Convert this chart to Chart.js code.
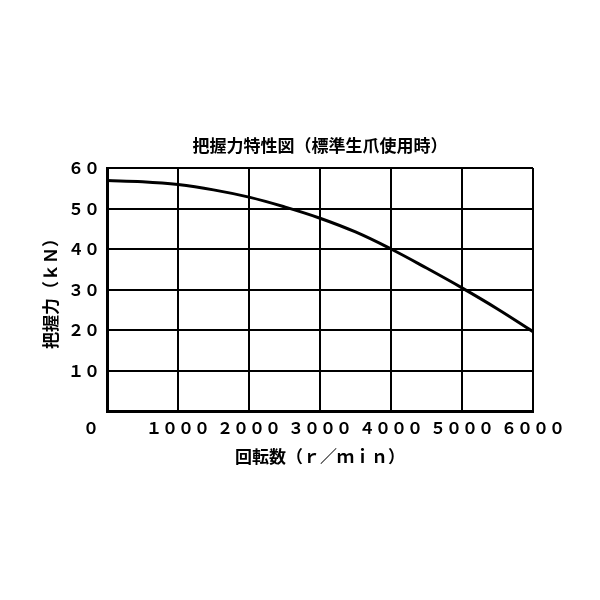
<!DOCTYPE html>
<html>
<head>
<meta charset="utf-8">
<script src="https://cdn.jsdelivr.net/npm/chart.js@4"></script>
<style>
  html, body { margin: 0; padding: 0; background: #fff; }
  #wrap { width: 600px; height: 600px; }
</style>
</head>
<body>
<div id="wrap"><canvas id="c" width="600" height="600"></canvas></div>
<script>
// Data
const rpm = [0, 500, 1000, 1500, 2000, 2500, 3000, 3500, 4000, 4500, 5000, 5500, 6000];
const grip = [56.9, 56.6, 55.9, 54.6, 52.8, 50.4, 47.6, 44.2, 40.0, 35.3, 30.4, 25.2, 19.6];
const xTickLabels = ['０　　', '１０００', '２０００', '３０００', '４０００', '５０００', '６０００'];
const yTickLabels = ['', '１０', '２０', '３０', '４０', '５０', '６０'];
const chartTitle = '把握力特性図（標準生爪使用時）';
const xTitle = '回転数（ｒ／ｍｉｎ）';
const yTitle = '把握力（ｋＮ）';

const FONT = '"Noto Sans CJK JP", "Noto Sans", sans-serif';
const points = rpm.map((r, i) => ({ x: r, y: grip[i] }));

new Chart(document.getElementById('c'), {
  type: 'line',
  data: {
    datasets: [{
      data: points,
      borderColor: '#000',
      borderWidth: 3,
      pointRadius: 0,
      tension: 0.4,
      fill: false
    }]
  },
  options: {
    responsive: false,
    animation: false,
    devicePixelRatio: 1,
    layout: { padding: { left: 40, right: 67, top: 135, bottom: 133 } },
    plugins: {
      legend: { display: false },
      tooltip: { enabled: false },
      title: {
        display: true,
        text: chartTitle,
        fullSize: false,
        color: '#000',
        font: { family: FONT, size: 17, weight: 'bold', lineHeight: 1.2 },
        padding: { top: 0, bottom: 12.6 }
      }
    },
    scales: {
      x: {
        type: 'linear',
        min: 0, max: 6000,
        afterFit: (s) => { s.height = 56; },
        ticks: {
          stepSize: 1000,
          color: '#000',
          padding: 7,
          maxRotation: 0,
          autoSkip: false,
          font: { family: FONT, size: 16, weight: 'bold', lineHeight: 1.2 },
          callback: (v, i) => xTickLabels[i]
        },
        grid: { color: '#000', lineWidth: 2, drawTicks: false },
        border: { display: true, color: '#000', width: 3 },
        title: {
          display: true,
          text: xTitle,
          color: '#000',
          padding: { top: 0, bottom: 0 },
          font: { family: FONT, size: 17, weight: 'bold', lineHeight: 1.2 }
        }
      },
      y: {
        min: 0, max: 60,
        afterFit: (s) => { s.width = 67; },
        ticks: {
          stepSize: 10,
          color: '#000',
          padding: 7,
          autoSkip: false,
          font: { family: FONT, size: 16, weight: 'bold', lineHeight: 1.2 },
          callback: (v, i) => yTickLabels[i]
        },
        grid: { color: '#000', lineWidth: 2, drawTicks: false },
        border: { display: true, color: '#000', width: 3 },
        title: {
          display: true,
          text: yTitle,
          color: '#000',
          padding: { top: 0, bottom: 0 },
          font: { family: FONT, size: 17, weight: 'bold', lineHeight: 1.2 }
        }
      }
    }
  }
});
</script>
</body>
</html>
